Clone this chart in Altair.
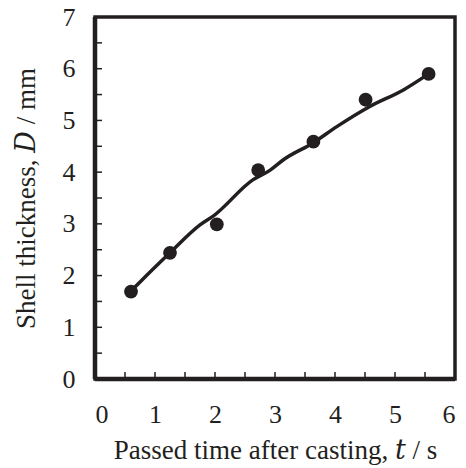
import altair as alt
import pandas as pd

# measured points
pt_t = [0.60, 1.25, 2.03, 2.72, 3.64, 4.51, 5.56]
pt_d = [1.69, 2.44, 2.99, 4.04, 4.59, 5.40, 5.90]

# fitted curve
line_t = [0.60, 0.78, 1.25, 1.75, 1.97, 2.63, 2.92, 3.14, 3.64, 4.03, 4.58, 5.14, 5.56]
line_d = [1.70, 1.91, 2.44, 2.98, 3.15, 3.85, 4.04, 4.24, 4.57, 4.88, 5.27, 5.59, 5.90]

x_ticks = [0, 0.5, 1, 1.5, 2, 2.5, 3, 3.5, 4, 4.5, 5, 5.5, 6]
y_ticks = [0, 0.5, 1, 1.5, 2, 2.5, 3, 3.5, 4, 4.5, 5, 5.5, 6, 6.5, 7]

INK = "#231f20"
FONT = "Liberation Serif, DejaVu Serif, serif"
W, H = 360, 362

pts = pd.DataFrame({"t": pt_t, "d": pt_d})
crv = pd.DataFrame({"t": line_t, "d": line_d})
xt = pd.DataFrame({"t": x_ticks})
yt = pd.DataFrame({"d": y_ticks})

xscale = alt.Scale(domain=[0, 6], nice=False, zero=False)
yscale = alt.Scale(domain=[0, 7], nice=False, zero=False)

xaxis = alt.Axis(
    title="Passed time after casting, 𝑡 / s",
    values=[0, 1, 2, 3, 4, 5, 6], format="d",
    grid=False, ticks=False, domain=False,
    labelFont=FONT, labelFontSize=26, labelColor=INK, labelPadding=22,
    titleFont=FONT, titleFontSize=27, titleColor=INK, titleFontWeight="normal",
    titleX=180, titleY=79, titleBaseline="alphabetic", titleAlign="center",
)
yaxis = alt.Axis(
    title="Shell thickness, 𝐷 / mm",
    values=[0, 1, 2, 3, 4, 5, 6, 7], format="d",
    grid=False, ticks=False, domain=False,
    labelFont=FONT, labelFontSize=26, labelColor=INK, labelPadding=20,
    titleFont=FONT, titleFontSize=27, titleColor=INK, titleFontWeight="normal",
    titleX=-61, titleY=181, titleAngle=-90, titleBaseline="alphabetic", titleAlign="center",
)

frame = alt.Chart(pd.DataFrame({"k": [0]})).mark_rect(
    fill=None, filled=False, stroke=INK, strokeWidth=3.5
).encode(x=alt.value(0), x2=alt.value(W), y=alt.value(0), y2=alt.value(H))
left_axis = alt.Chart(pd.DataFrame({"k": [0]})).mark_rule(
    stroke=INK, strokeWidth=4.5
).encode(x=alt.value(0), y=alt.value(0), y2=alt.value(H))
bottom_axis = alt.Chart(pd.DataFrame({"k": [0]})).mark_rule(
    stroke=INK, strokeWidth=4.5
).encode(x=alt.value(0), x2=alt.value(W), y=alt.value(H))

line = alt.Chart(crv).mark_line(color=INK, strokeWidth=3.5, interpolate="monotone").encode(
    x=alt.X("t:Q", scale=xscale, axis=xaxis),
    y=alt.Y("d:Q", scale=yscale, axis=yaxis),
)
points = alt.Chart(pts).mark_circle(color=INK, size=190, opacity=1).encode(
    x=alt.X("t:Q", scale=xscale),
    y=alt.Y("d:Q", scale=yscale),
)
xtick_marks = alt.Chart(xt).mark_rule(color=INK, strokeWidth=1.5).encode(
    x=alt.X("t:Q", scale=xscale),
    y=alt.value(H), y2=alt.value(H - 7),
)
ytick_marks = alt.Chart(yt).mark_rule(color=INK, strokeWidth=1.5).encode(
    y=alt.Y("d:Q", scale=yscale),
    x=alt.value(0), x2=alt.value(7),
)

chart = alt.layer(line, points, xtick_marks, ytick_marks, frame, left_axis, bottom_axis).properties(
    width=W, height=H,
    autosize=alt.AutoSizeParams(type="none"),
    padding={"left": 95, "top": 17, "right": 11, "bottom": 89},
).configure_view(stroke=None).configure(background="white")

chart.save("out.html", embed_options={"renderer": "svg", "actions": False})
